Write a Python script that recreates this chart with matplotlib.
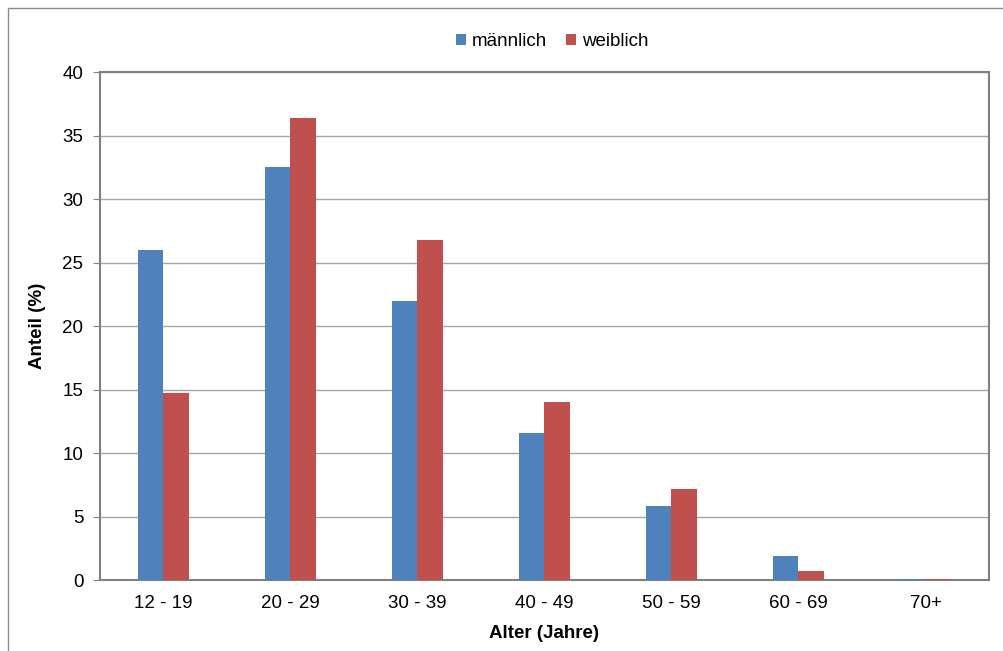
import numpy as np
import matplotlib.pyplot as plt
from matplotlib.patches import Rectangle

plt.rcParams['font.family'] = ['Liberation Sans', 'DejaVu Sans']

# data
age_groups = ['12 - 19', '20 - 29', '30 - 39', '40 - 49', '50 - 59', '60 - 69', '70+']
maennlich = [26.0, 32.5, 22.0, 11.6, 5.8, 1.9, 0.1]
weiblich = [14.7, 36.4, 26.8, 14.0, 7.2, 0.7, 0.05]

blue = '#4f81bd'
red = '#c0504d'

fig = plt.figure(figsize=(10.04, 6.51), dpi=100)
ax = fig.add_axes([0.0996, 0.109, 0.8854, 0.78])

x = np.arange(len(age_groups))
w = 0.2
ax.bar(x - w / 2, maennlich, width=w, color=blue, label='männlich', zorder=3)
ax.bar(x + w / 2, weiblich, width=w, color=red, label='weiblich', zorder=3)

ax.set_xlim(-0.5, len(age_groups) - 0.5)
ax.set_ylim(0, 40)
ax.set_yticks(range(0, 41, 5))
ax.set_xticks(x)
ax.set_xticklabels(age_groups)
ax.tick_params(axis='x', length=0, pad=11, labelsize=13.5)
ax.tick_params(axis='y', length=5, color='#808080', pad=7, labelsize=13.5)
ax.grid(axis='y', color='#a6a6a6', linewidth=1, zorder=0)
for s in ax.spines.values():
    s.set_color('#808080')
    s.set_linewidth(1.5)

ax.set_xlabel('Alter (Jahre)', fontsize=13.5, fontweight='bold', labelpad=9)
ax.set_ylabel('Anteil (%)', fontsize=13.5, fontweight='bold', labelpad=12)

fig.legend(loc='center', bbox_to_anchor=(0.55, 0.936), ncol=2, frameon=False,
           fontsize=13.5, handlelength=0.55, handleheight=0.55, handletextpad=0.3,
           columnspacing=1.0)

# outer chart frame
fig.patches.append(Rectangle((8 / 1004, -0.01), 1.02, 1 - 8 / 651 + 0.01,
                             transform=fig.transFigure, fill=False,
                             edgecolor='#8c8c8c', linewidth=1))

fig.savefig('out.png', dpi=100)
